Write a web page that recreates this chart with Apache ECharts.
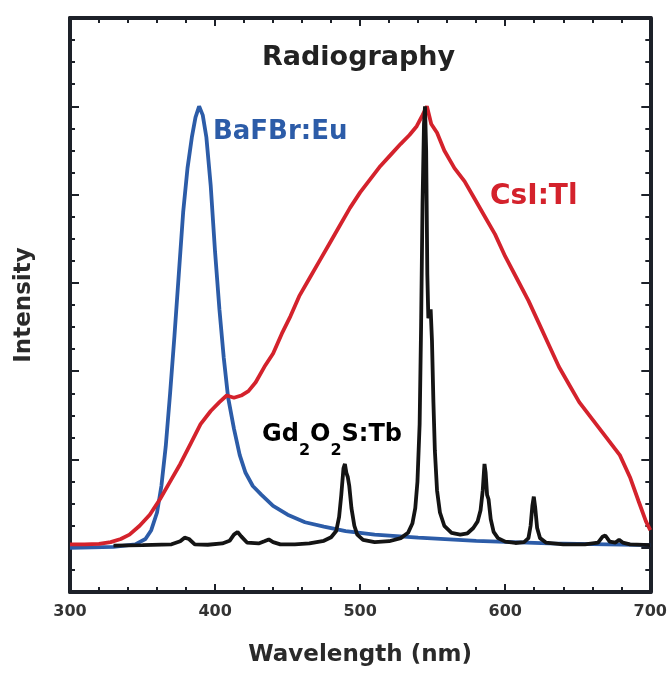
<!DOCTYPE html>
<html>
<head>
<meta charset="utf-8">
<script src="https://cdn.jsdelivr.net/npm/echarts@6/dist/echarts.min.js"></script>
<style>
  html, body { margin: 0; padding: 0; background: #fff; }
  #chart { width: 670px; height: 673px; }
</style>
</head>
<body>
<div id="chart"></div>
<script>
// 数据：波长 (nm) 和强度 (任意单位，基线 0，峰值 100)
const xTicks = [300, 400, 500, 600, 700]

const bafbrWl = [300, 330, 345, 352, 356, 360, 363, 366, 369, 372, 375, 378, 381, 384, 386.5, 389, 391.5, 394, 397, 400, 403, 406, 409, 413, 417, 421, 426, 432, 440, 450, 462, 475, 490, 510, 540, 580, 630, 700]
const bafbrInt = [0, 0.2, 0.8, 2, 4, 8, 14, 23, 35, 48, 62, 76, 86, 93, 97.5, 100, 98, 93, 82, 67, 54, 43, 34, 27, 21, 17, 14, 12, 9.5, 7.5, 5.8, 4.8, 3.8, 3, 2.3, 1.6, 1, 0.6]

const csiWl = [300, 310, 320, 328, 335, 341, 348, 355, 362, 369, 376, 383, 390, 397, 403, 408, 413, 418, 423, 428, 434, 440, 446, 452, 458, 465, 472, 479, 486, 493, 500, 507, 514, 521, 528, 534, 539, 543, 546, 549, 553, 558, 565, 572, 579, 586, 593, 600, 608, 616, 623, 630, 637, 644, 651, 658, 665, 672, 679, 686, 692, 697, 700]
const csiInt = [0.8, 0.8, 0.9, 1.3, 2, 3, 5, 7.5, 11, 15, 19, 23.5, 28, 31, 33, 34.5, 34, 34.5, 35.5, 37.5, 41, 44, 48.5, 52.5, 57, 61, 65, 69, 73, 77, 80.5, 83.5, 86.5, 89, 91.5, 93.5, 95.5, 98, 100, 96, 94, 90, 86, 83, 79, 75, 71, 66, 61, 56, 51, 46, 41, 37, 33, 30, 27, 24, 21, 16, 10.5, 6, 4]

const gdosWl = [330, 350, 370, 376, 379, 382, 386, 395, 405, 410, 413, 415.5, 418, 422, 430, 434, 437, 440, 445, 455, 465, 475, 480, 483.5, 485.5, 487, 488.5, 489.5, 490.5, 491.5, 492.5, 494, 496, 498, 502, 510, 520, 528, 533, 536, 538, 539.5, 541, 542, 543, 544, 544.7, 545.5, 546.3, 547, 547.8, 548.6, 549.5, 550.5, 551.5, 553, 555, 558, 563, 569, 574, 578, 581, 583, 584.5, 585.7, 586.5, 587.5, 588.5, 590, 592, 595, 600, 607, 613, 616, 617.5, 618.7, 619.7, 620.7, 622, 624, 628, 640, 655, 664, 667, 669, 672, 676, 678.5, 681, 686, 700]
const gdosInt = [0.5, 0.6, 0.8, 1.5, 2.3, 2, 0.8, 0.7, 1, 1.6, 3, 3.6, 2.6, 1.2, 1, 1.5, 1.9, 1.3, 0.8, 0.8, 1, 1.6, 2.4, 3.8, 7, 12, 18, 19, 17, 16, 14, 9, 5, 3, 1.8, 1.3, 1.5, 2.2, 3.4, 5.5, 9, 15, 28, 50, 78, 96, 100, 90, 62, 52, 52, 54, 47, 33, 22, 13, 8, 5, 3.4, 3, 3.3, 4.5, 6, 8.5, 13, 19, 17, 12, 11, 6.5, 3.6, 2.2, 1.4, 1.1, 1.3, 2.2, 5, 9.5, 11.6, 9, 4.5, 2.2, 1.2, 0.8, 0.8, 1.2, 2.5, 2.8, 1.4, 1.2, 1.8, 1.2, 0.8, 0.6]

const yMajor = [0, 20, 40, 60, 80, 100]
const yMinor = [-5, 5, 10, 15, 25, 30, 35, 45, 50, 55, 65, 70, 75, 85, 90, 95, 105, 110, 115]

const pairs = (xs, ys) => xs.map((x, i) => [x, ys[i]])

const frameColor = '#1d2129'
const fontFam = 'DejaVu Sans'

const chart = echarts.init(document.getElementById('chart'))

function xAxisCfg(pos, showLabel) {
  return {
    type: 'value', position: pos, min: 300, max: 700, interval: 100,
    axisLine: { show: true, onZero: false, lineStyle: { color: frameColor, width: 4 } },
    axisTick: { show: true, inside: true, length: 8, lineStyle: { color: frameColor, width: 2 } },
    minorTick: { show: true, splitNumber: 5, length: 5, lineStyle: { color: frameColor, width: 2 } },
    splitLine: { show: false },
    axisLabel: {
      show: showLabel, margin: 12, color: '#333', fontFamily: fontFam,
      fontWeight: 'bold', fontSize: 16
    },
    name: showLabel ? 'Wavelength (nm)' : '',
    nameLocation: 'middle', nameGap: 52,
    nameTextStyle: { fontFamily: fontFam, fontWeight: 'bold', fontSize: 23, color: '#2a2a2a' }
  }
}

function yAxisCfg(pos, ticks, len, showLine, name) {
  return {
    type: 'value', position: pos, min: -10, max: 120,
    axisLine: { show: showLine, onZero: false, lineStyle: { color: frameColor, width: 4 } },
    axisTick: { show: true, inside: true, length: len, customValues: ticks, lineStyle: { color: frameColor, width: 2 } },
    splitLine: { show: false },
    axisLabel: { show: false },
    name: name || '',
    nameLocation: 'middle', nameGap: 34,
    nameTextStyle: { fontFamily: fontFam, fontWeight: 'bold', fontSize: 23, color: '#2a2a2a' }
  }
}

const lineSeries = (name, data, color) => ({
  name: name, type: 'line', data: data, showSymbol: false, smooth: false,
  lineStyle: { color: color, width: 3.8 }, silent: true
})

const option = {
  animation: false,
  backgroundColor: '#fff',
  grid: { left: 70, right: 18, top: 18, bottom: 81 },
  xAxis: [xAxisCfg('bottom', true), xAxisCfg('top', false)],
  yAxis: [
    yAxisCfg('left', yMajor, 9, true, 'Intensity'),
    yAxisCfg('left', yMinor, 5, false),
    yAxisCfg('right', yMajor, 9, true),
    yAxisCfg('right', yMinor, 5, false)
  ],
  series: [
    lineSeries('BaFBr:Eu', pairs(bafbrWl, bafbrInt), '#2c5ca8'),
    lineSeries('CsI:Tl', pairs(csiWl, csiInt), '#d4222c'),
    lineSeries('Gd2O2S:Tb', pairs(gdosWl, gdosInt), '#141414')
  ],
  graphic: [
    { type: 'text', left: 262, top: 44, style: { text: 'Radiography', font: 'bold 27px "DejaVu Sans"', fill: '#222' } },
    { type: 'text', left: 213, top: 119, style: { text: 'BaFBr:Eu', font: 'bold 26px "DejaVu Sans"', fill: '#2c5ca8' } },
    { type: 'text', left: 490, top: 183, style: { text: 'CsI:Tl', font: 'bold 28px "DejaVu Sans"', fill: '#d4222c' } },
    {
      type: 'text', left: 262, top: 423,
      style: {
        text: '{n|Gd}{s|2}{n|O}{s|2}{n|S:Tb}',
        rich: {
          n: { fontFamily: fontFam, fontWeight: 'bold', fontSize: 24, color: '#141414', verticalAlign: 'top', lineHeight: 28 },
          s: { fontFamily: fontFam, fontWeight: 'bold', fontSize: 16, color: '#141414', verticalAlign: 'top', lineHeight: 18, padding: [20, 0, 0, 0] }
        }
      }
    }
  ]
}

chart.setOption(option)
</script>
</body>
</html>
